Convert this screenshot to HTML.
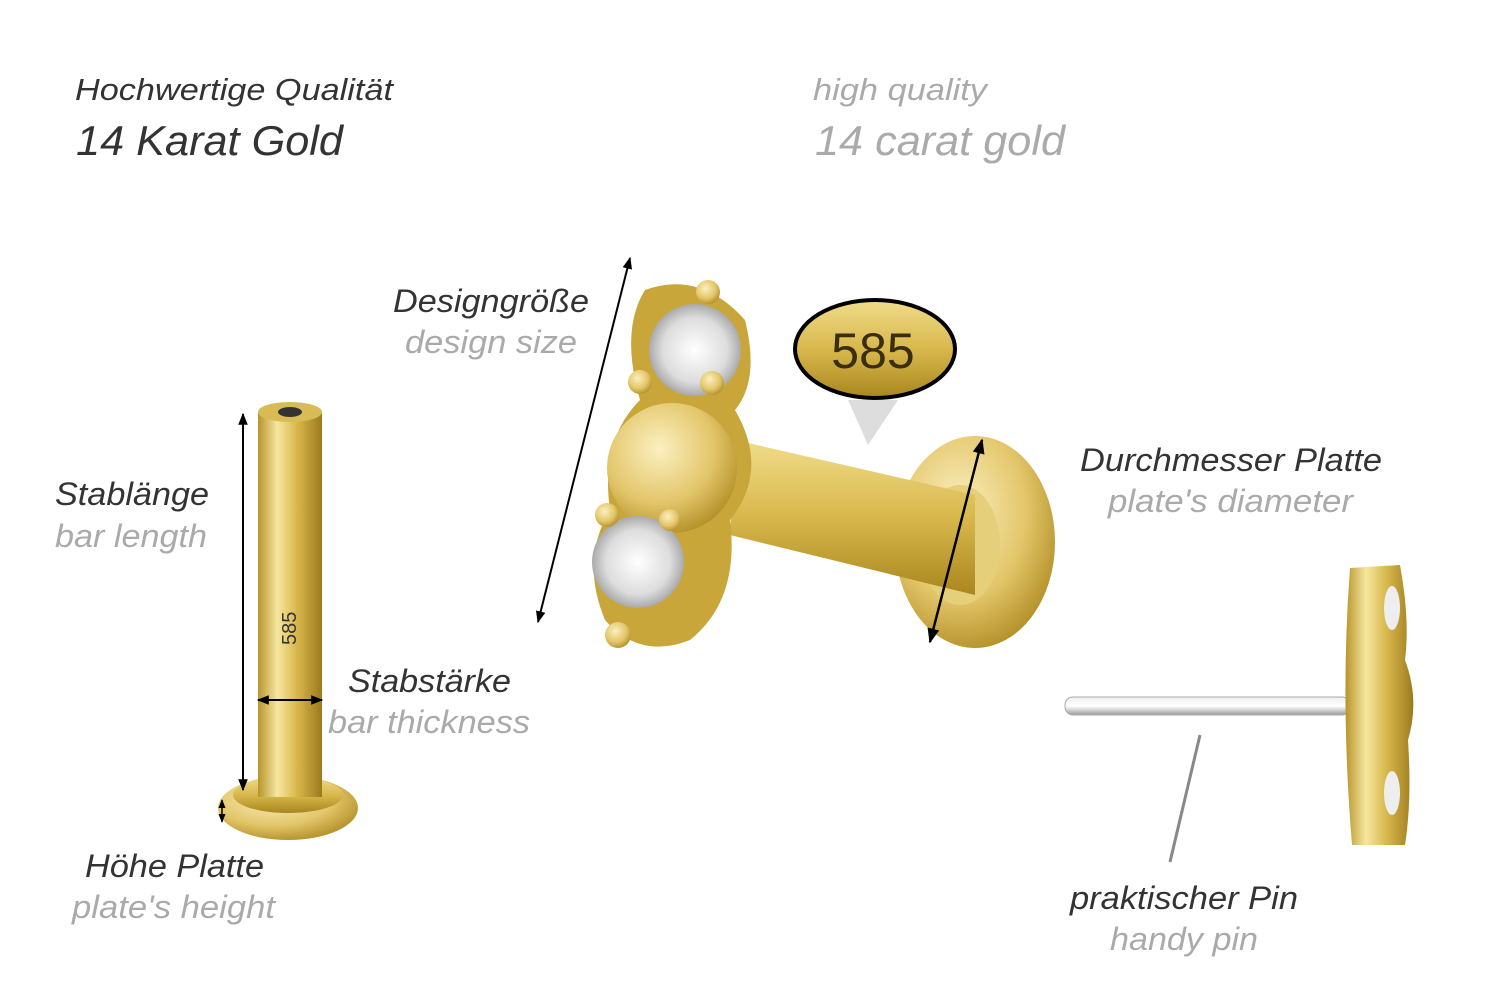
<!DOCTYPE html>
<html><head><meta charset="utf-8"><style>
html,body{margin:0;padding:0;background:#fff;}
svg{display:block;}
text{font-family:"Liberation Sans",sans-serif;font-style:italic;}
.d{fill:#333;}.g{fill:#aaa;}
</style></head><body>
<svg width="1500" height="1001" viewBox="0 0 1500 1001" xmlns="http://www.w3.org/2000/svg">
<defs>
<linearGradient id="gh" x1="0" x2="1" y1="0" y2="0">
<stop offset="0" stop-color="#b8952a"/><stop offset="0.3" stop-color="#f6e6a0"/><stop offset="0.6" stop-color="#d9b94d"/><stop offset="1" stop-color="#9c7a1c"/></linearGradient>
<linearGradient id="gv" x1="0" x2="0" y1="0" y2="1">
<stop offset="0" stop-color="#f0dc8a"/><stop offset="0.5" stop-color="#d8b84c"/><stop offset="1" stop-color="#a9861f"/></linearGradient>
<radialGradient id="gr" cx="0.4" cy="0.35" r="0.7">
<stop offset="0" stop-color="#fbf0c0"/><stop offset="0.6" stop-color="#e3c66a"/><stop offset="1" stop-color="#b08d25"/></radialGradient>
<radialGradient id="gem" cx="0.5" cy="0.5" r="0.5">
<stop offset="0" stop-color="#fff"/><stop offset="0.7" stop-color="#ddd"/><stop offset="1" stop-color="#aaa"/></radialGradient>
<linearGradient id="sv" x1="0" x2="0" y1="0" y2="1">
<stop offset="0" stop-color="#eee"/><stop offset="0.5" stop-color="#fff"/><stop offset="1" stop-color="#999"/></linearGradient>
<marker id="a" viewBox="0 0 10 10" refX="9" refY="5" markerWidth="6" markerHeight="6" orient="auto-start-reverse"><path d="M0,1 L10,5 L0,9 z" fill="#000"/></marker>
</defs>

<text x="75" y="100" font-size="31" class="d" textLength="318" lengthAdjust="spacingAndGlyphs">Hochwertige Qualität</text>
<text x="76" y="155" font-size="42" class="d" textLength="267" lengthAdjust="spacingAndGlyphs">14 Karat Gold</text>
<text x="813" y="100" font-size="31" class="g" textLength="174" lengthAdjust="spacingAndGlyphs">high quality</text>
<text x="815" y="155" font-size="42" class="g" textLength="250" lengthAdjust="spacingAndGlyphs">14 carat gold</text>

<!-- bar -->
<ellipse cx="288" cy="808" rx="70" ry="32" fill="url(#gr)"/>
<ellipse cx="288" cy="795" rx="55" ry="18" fill="url(#gv)"/>
<rect x="258" y="412" width="64" height="385" fill="url(#gh)"/>
<ellipse cx="290" cy="412" rx="32" ry="10" fill="#d8bb55"/>
<ellipse cx="290" cy="412" rx="12" ry="5" fill="#333"/>
<text x="0" y="0" font-size="20" fill="#333" style="font-style:normal" transform="translate(296,645) rotate(-90)">585</text>
<line x1="243" y1="414" x2="243" y2="790" stroke="#000" stroke-width="2" marker-start="url(#a)" marker-end="url(#a)"/>
<line x1="258" y1="700" x2="322" y2="700" stroke="#000" stroke-width="2" marker-start="url(#a)" marker-end="url(#a)"/>
<line x1="222" y1="800" x2="222" y2="822" stroke="#000" stroke-width="1.5" marker-start="url(#a)" marker-end="url(#a)"/>

<text x="55" y="505" font-size="32" class="d" textLength="154" lengthAdjust="spacingAndGlyphs">Stablänge</text>
<text x="55" y="547" font-size="32" class="g" textLength="152" lengthAdjust="spacingAndGlyphs">bar length</text>
<text x="348" y="692" font-size="32" class="d" textLength="163" lengthAdjust="spacingAndGlyphs">Stabstärke</text>
<text x="328" y="733" font-size="32" class="g" textLength="202" lengthAdjust="spacingAndGlyphs">bar thickness</text>
<text x="85" y="877" font-size="32" class="d" textLength="179" lengthAdjust="spacingAndGlyphs">Höhe Platte</text>
<text x="72" y="918" font-size="32" class="g" textLength="203" lengthAdjust="spacingAndGlyphs">plate's height</text>

<!-- main stud -->
<ellipse cx="975" cy="542" rx="80" ry="106" fill="url(#gr)"/>
<ellipse cx="960" cy="545" rx="40" ry="60" fill="#e6cf7a"/>
<polygon points="735,440 975,495 975,595 730,535" fill="url(#gv)"/>
<path d="M645,290 Q700,270 745,320 Q760,380 735,410 Q770,470 730,520 Q740,600 690,640 Q640,660 605,620 Q580,560 610,510 Q600,440 640,400 Q620,330 645,290z" fill="#c9a63a"/>
<circle cx="672" cy="468" r="65" fill="url(#gr)"/>
<circle cx="695" cy="350" r="46" fill="url(#gem)"/>
<circle cx="638" cy="562" r="46" fill="url(#gem)"/>
<circle cx="708" cy="292" r="12" fill="url(#gr)"/><circle cx="640" cy="382" r="12" fill="url(#gr)"/><circle cx="712" cy="383" r="12" fill="url(#gr)"/>
<circle cx="607" cy="515" r="12" fill="url(#gr)"/><circle cx="670" cy="520" r="11" fill="url(#gr)"/><circle cx="618" cy="635" r="13" fill="url(#gr)"/>
<polygon points="848,400 898,400 868,445" fill="#ddd"/>
<ellipse cx="875" cy="349" rx="80" ry="49" fill="url(#gv)" stroke="#000" stroke-width="4"/>
<text x="873" y="368" font-size="50" fill="#3a2e10" text-anchor="middle" style="font-style:normal">585</text>
<line x1="630" y1="258" x2="538" y2="622" stroke="#000" stroke-width="2" marker-start="url(#a)" marker-end="url(#a)"/>
<line x1="982" y1="440" x2="930" y2="642" stroke="#000" stroke-width="2.5" marker-start="url(#a)" marker-end="url(#a)"/>

<text x="393" y="312" font-size="32" class="d" textLength="196" lengthAdjust="spacingAndGlyphs">Designgröße</text>
<text x="405" y="353" font-size="32" class="g" textLength="172" lengthAdjust="spacingAndGlyphs">design size</text>
<text x="1080" y="471" font-size="32" class="d" textLength="302" lengthAdjust="spacingAndGlyphs">Durchmesser Platte</text>
<text x="1108" y="512" font-size="32" class="g" textLength="245" lengthAdjust="spacingAndGlyphs">plate's diameter</text>

<!-- pin -->
<rect x="1065" y="697" width="285" height="18" rx="8" fill="url(#sv)" stroke="#aaa"/>
<path d="M1350,568 L1400,565 Q1410,620 1405,660 Q1420,700 1408,740 Q1412,800 1405,845 L1352,845 Q1340,700 1350,568z" fill="url(#gh)"/>
<ellipse cx="1392" cy="608" rx="8" ry="22" fill="#eee"/>
<ellipse cx="1392" cy="793" rx="8" ry="22" fill="#eee"/>
<line x1="1200" y1="735" x2="1170" y2="862" stroke="#888" stroke-width="3"/>
<text x="1070" y="909" font-size="32" class="d" textLength="228" lengthAdjust="spacingAndGlyphs">praktischer Pin</text>
<text x="1110" y="950" font-size="32" class="g" textLength="148" lengthAdjust="spacingAndGlyphs">handy pin</text>
</svg>
</body></html>
